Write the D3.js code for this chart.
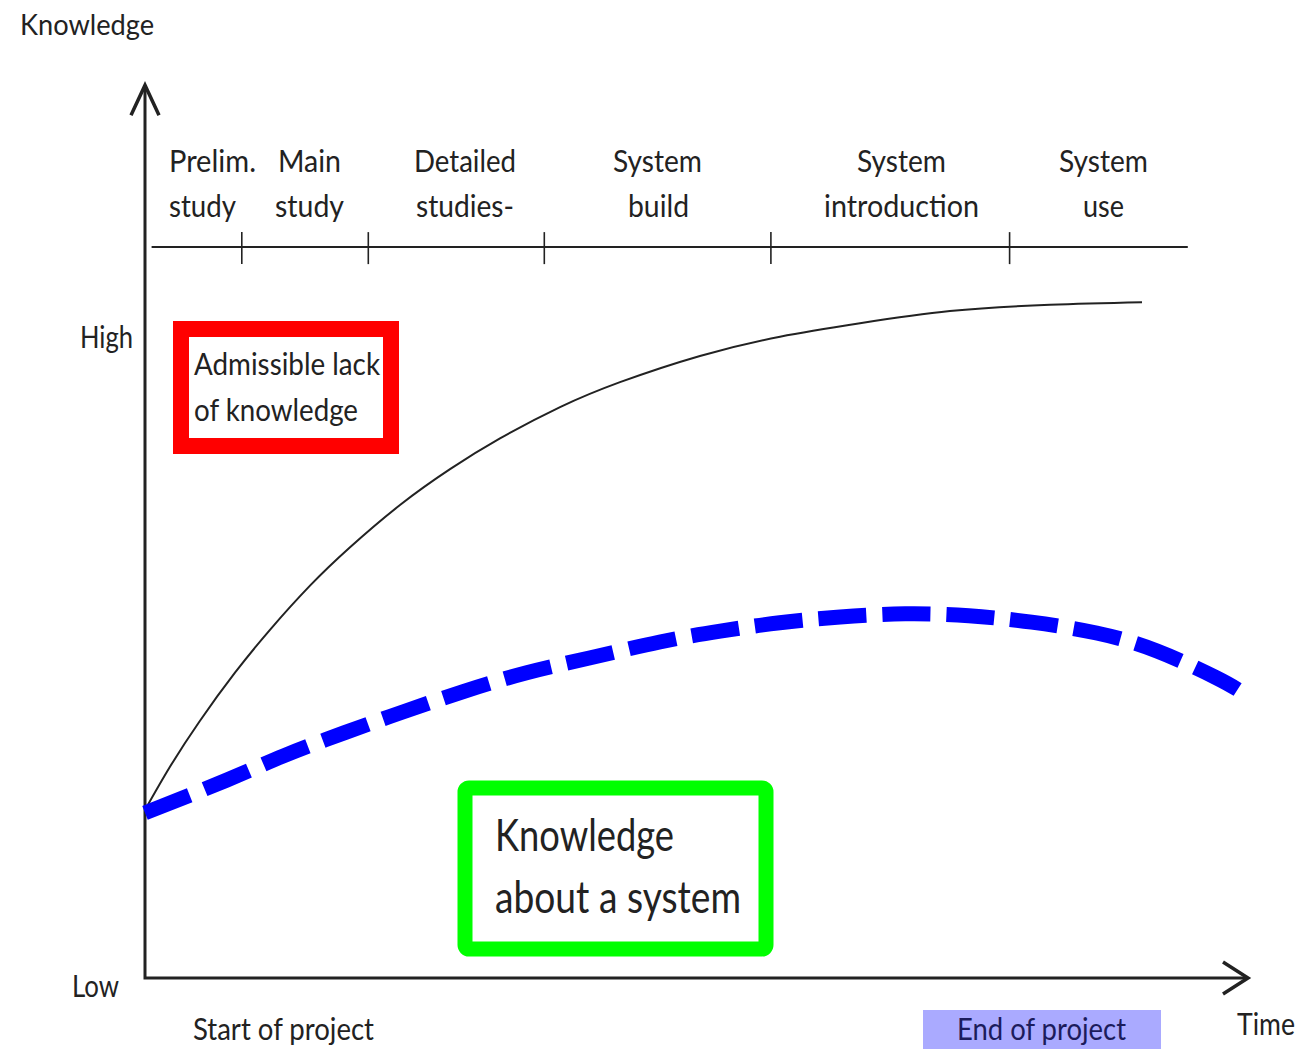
<!DOCTYPE html>
<html>
<head>
<meta charset="utf-8">
<script src="https://cdn.jsdelivr.net/npm/d3@7"></script>
<style>
  body { margin: 0; background: #fff; }
  svg text { font-family: Lato, "Open Sans", sans-serif; fill: #222; }
</style>
</head>
<body>
<svg width="1304" height="1049"></svg>
<script>
// project phases (label lines + where each phase ends on the time axis)
var phaseLabels = [["Prelim.", "study"], ["Main", "study"], ["Detailed", "studies-"],
                   ["System", "build"], ["System", "introduction"], ["System", "use"]];
var phaseBounds = [8.8, 20.3, 36.3, 56.9, 78.6];

// admissible lack of knowledge (solid curve)
var lackTime = [0, 2.27, 5.0, 8.18, 11.36, 15.0, 18.64, 23.18, 27.73, 32.27, 37.73, 43.18, 50.45, 57.73, 65.0, 73.18, 82.27, 90.64];
var lackLevel = [26.25, 33.0, 40.2, 47.7, 54.4, 61.3, 67.3, 73.9, 79.5, 84.3, 89.2, 93.1, 97.2, 100.2, 102.3, 104.2, 105.2, 105.6];

// knowledge about a system (blue dashed)
var knowTime = [0, 7.4, 12.6, 18.1, 23.5, 29.0, 34.7, 40.4, 46.8, 52.3, 57.7, 63.2, 69.1, 74.9, 80.6, 86.5, 92.0, 97.3, 99.4];
var knowLevel = [25.8, 30.9, 34.7, 38.3, 41.6, 44.8, 47.7, 50.0, 52.5, 54.2, 55.5, 56.4, 56.9, 56.6, 55.6, 53.9, 51.1, 47.0, 45.0];

var svg = d3.select('svg');

// time 0..100, knowledge Low=0 .. High=100
var x = d3.scaleLinear().domain([0, 100]).range([145, 1245]);
var y = d3.scaleLinear().domain([0, 100]).range([978, 338]);

var ink = '#222';

// text squeezed to the narrow look of the original font
function label(px, py, str, size, width) {
  return svg.append('text')
      .attr('x', px).attr('y', py)
      .attr('textLength', width)
      .attr('lengthAdjust', 'spacingAndGlyphs')
      .style('font-size', size + 'px')
      .text(str);
}

// axes with arrow heads
svg.append('path')
    .attr('d', 'M' + x(0) + ',' + y(139.5) + 'V' + y(0) + 'H' + (x(100) + 3))
    .attr('fill', 'none').attr('stroke', ink).attr('stroke-width', 3);
svg.append('path')
    .attr('d', 'M' + (x(0) - 14) + ',' + (y(139.5) + 30) + 'L' + x(0) + ',' + y(139.5) + 'L' + (x(0) + 14) + ',' + (y(139.5) + 30))
    .attr('fill', 'none').attr('stroke', ink).attr('stroke-width', 3.5);
svg.append('path')
    .attr('d', 'M' + (x(100) - 22) + ',' + (y(0) - 16) + 'L' + (x(100) + 3) + ',' + y(0) + 'L' + (x(100) - 22) + ',' + (y(0) + 16))
    .attr('fill', 'none').attr('stroke', ink).attr('stroke-width', 3.5);

// phase band
var phaseY = y(114.2);
svg.append('line')
    .attr('x1', x(0.6)).attr('x2', x(94.8))
    .attr('y1', phaseY).attr('y2', phaseY)
    .attr('stroke', ink).attr('stroke-width', 2);
svg.selectAll('.ptick')
    .data(phaseBounds)
    .enter().append('line')
    .attr('x1', function(d) { return x(d); }).attr('x2', function(d) { return x(d); })
    .attr('y1', phaseY - 15).attr('y2', phaseY + 17)
    .attr('stroke', ink).attr('stroke-width', 1.6);

var line1X = [169, 278, 414, 613, 857, 1059], line1W = [87, 63, 102, 89, 89, 89];
var line2X = [169, 275, 416, 628, 824, 1083], line2W = [67, 69, 98, 61, 155, 41];
phaseLabels.forEach(function(d, i) {
  label(line1X[i], 172, d[0], 30, line1W[i]);
  label(line2X[i], 217, d[1], 30, line2W[i]);
});

// curves
var smoothLine = d3.line()
    .x(function(d) { return x(d[0]); })
    .y(function(d) { return y(d[1]); })
    .curve(d3.curveNatural);

svg.append('path')
    .datum(d3.zip(lackTime, lackLevel))
    .attr('d', smoothLine)
    .attr('fill', 'none').attr('stroke', ink).attr('stroke-width', 2);

svg.append('path')
    .datum(d3.zip(knowTime, knowLevel))
    .attr('d', smoothLine)
    .attr('fill', 'none').attr('stroke', '#0000ff')
    .attr('stroke-width', 15)
    .attr('stroke-dasharray', '48,16');

// red annotation box
svg.append('rect')
    .attr('x', 181).attr('y', 329).attr('width', 210).attr('height', 117)
    .attr('fill', '#fff').attr('stroke', '#ff0000').attr('stroke-width', 16);
label(194, 375, 'Admissible lack', 30, 186);
label(194, 421, 'of knowledge', 30, 164);

// green annotation box
svg.append('rect')
    .attr('x', 465).attr('y', 788).attr('width', 301).attr('height', 161)
    .attr('rx', 4)
    .attr('fill', '#fff').attr('stroke', '#00ff00').attr('stroke-width', 15);
label(495, 851, 'Knowledge', 44, 179);
label(495, 913, 'about a system', 44, 246);

// axis labels
label(20, 35, 'Knowledge', 29, 134);
label(80, 348, 'High', 30, 53);
label(72, 997, 'Low', 30, 47);
label(193, 1040, 'Start of  project', 30, 181);

svg.append('rect')
    .attr('x', 923).attr('y', 1010).attr('width', 238).attr('height', 39)
    .attr('fill', '#aaaaff');
label(957, 1040, 'End of project', 30, 169).style('fill', '#1c1c5c');
label(1237, 1035, 'Time', 30, 58);
</script>
</body>
</html>
